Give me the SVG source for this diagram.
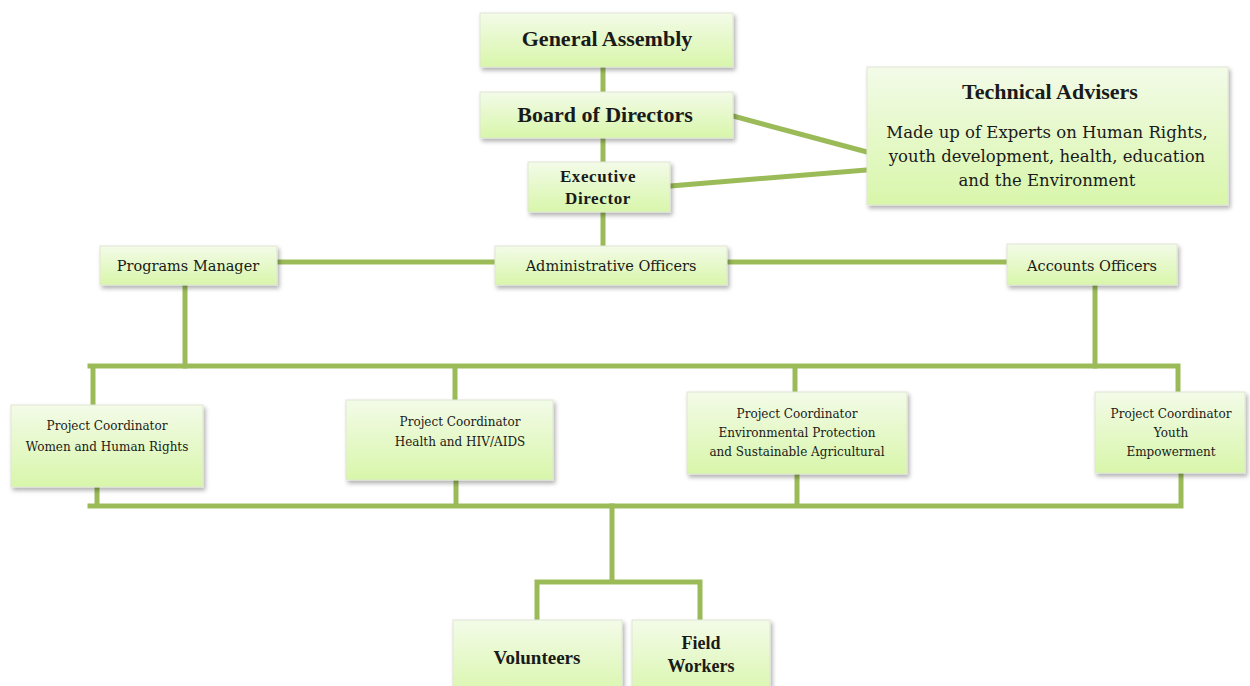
<svg xmlns="http://www.w3.org/2000/svg" width="1250" height="686" viewBox="0 0 1250 686">
<defs>
<linearGradient id="g" x1="0" y1="0" x2="0" y2="1">
<stop offset="0" stop-color="#f3fbe8"/>
<stop offset="1" stop-color="#d8f6aa"/>
</linearGradient>
<filter id="sh" x="-10%" y="-10%" width="125%" height="130%">
<feDropShadow dx="2" dy="3" stdDeviation="2" flood-color="#000" flood-opacity="0.3"/>
</filter>
<style>
.box{fill:url(#g);stroke:#dfe6d3;stroke-width:1;filter:url(#sh)}
.ln{stroke:#9bbb59;stroke-width:5;fill:none;stroke-linecap:square}
text{font-family:"DejaVu Serif","Liberation Serif",serif;fill:#1a1a1a;text-anchor:middle}
.b{font-family:"Liberation Serif","DejaVu Serif",serif;font-weight:bold}
</style>
</defs>
<rect width="1250" height="686" fill="#fff"/>
<g id="connectors">
<path class="ln" d="M603 67V92M603 138V162M603 212V246"/>
<path class="ln" d="M733 116L867 152M670 186L867 170" stroke-linecap="butt"/>
<path class="ln" d="M277 262H495M727 262H1007"/>
<path class="ln" d="M185 285V366M1095 285V366"/>
<path class="ln" d="M90 366H1178M93 366V405M455 366V400M795 366V392M1178 366V392"/>
<path class="ln" d="M97 487V506M456 480V506M797 474V506M1181 473V506M90 506H1181"/>
<path class="ln" d="M612 506V582M537 582H700M537 582V620M700 582V620"/>
</g>
<g id="general-assembly"><rect class="box" x="480" y="13" width="253" height="54"/><text class="b" x="607" y="46" font-size="22">General Assembly</text></g>
<g id="board"><rect class="box" x="480" y="92" width="253" height="46"/><text class="b" x="605" y="122" font-size="22">Board of Directors</text></g>
<g id="executive"><rect class="box" x="528" y="162" width="142" height="50"/><text class="b" x="598" y="182" font-size="17" letter-spacing="0.6">Executive</text><text class="b" x="598" y="204" font-size="17" letter-spacing="0.6">Director</text></g>
<g id="technical"><rect class="box" x="867" y="67" width="361" height="138"/><text class="b" x="1050" y="99" font-size="22">Technical Advisers</text>
<text x="1047" y="138" font-size="16.5">Made up of Experts on Human Rights,</text>
<text x="1047" y="162" font-size="16.5">youth development, health, education</text>
<text x="1047" y="186" font-size="16.5">and the Environment</text></g>
<g id="programs"><rect class="box" x="100" y="246" width="177" height="39"/><text x="188" y="271" font-size="14.5">Programs Manager</text></g>
<g id="admin"><rect class="box" x="495" y="246" width="232" height="39"/><text x="611" y="271" font-size="14.5">Administrative Officers</text></g>
<g id="accounts"><rect class="box" x="1007" y="244" width="170" height="41"/><text x="1092" y="271" font-size="14.5">Accounts Officers</text></g>
<g id="pc-women"><rect class="box" x="11" y="405" width="192" height="82"/><text x="107" y="430" font-size="12">Project Coordinator</text><text x="107" y="451" font-size="12">Women and Human Rights</text></g>
<g id="pc-health"><rect class="box" x="346" y="400" width="207" height="80"/><text x="460" y="426" font-size="12">Project Coordinator</text><text x="460" y="446" font-size="12">Health and HIV/AIDS</text></g>
<g id="pc-env"><rect class="box" x="687" y="392" width="220" height="82"/><text x="797" y="418" font-size="12">Project Coordinator</text><text x="797" y="437" font-size="12">Environmental Protection</text><text x="797" y="456" font-size="12">and Sustainable Agricultural</text></g>
<g id="pc-youth"><rect class="box" x="1095" y="392" width="150" height="81"/><text x="1171" y="418" font-size="12">Project Coordinator</text><text x="1171" y="437" font-size="12">Youth</text><text x="1171" y="456" font-size="12">Empowerment</text></g>
<g id="volunteers"><rect class="box" x="453" y="620" width="169" height="80"/><text class="b" x="537" y="664" font-size="19">Volunteers</text></g>
<g id="field"><rect class="box" x="632" y="620" width="138" height="80"/><text class="b" x="701" y="649" font-size="18">Field</text><text class="b" x="701" y="672" font-size="18">Workers</text></g>
</svg>
